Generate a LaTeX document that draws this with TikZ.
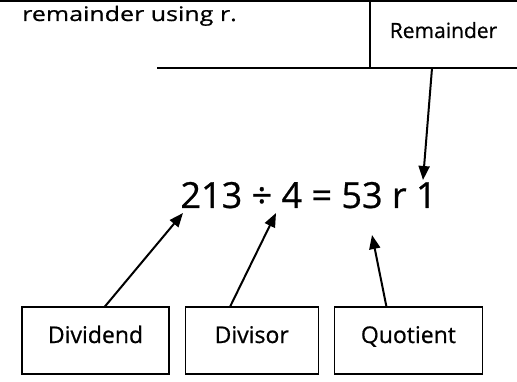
\documentclass[tikz,border=0pt]{standalone}
\usepackage{fontspec}
\setmainfont{Open Sans}[FakeBold=0.7]
\newfontfamily\widefont[FakeStretch=1.25,FakeBold=0.7]{Open Sans}
\usetikzlibrary{arrows.meta,positioning,calc}

\begin{document}
\begin{tikzpicture}[x=1pt, y=-1pt,
    node distance=15pt,
    every node/.style={align=center, inner sep=0pt},
    labelbox/.style={rectangle, draw, line width=1.2pt, minimum height=67pt, text height=17pt, text depth=12pt, font=\fontsize{23}{26}\selectfont},
    pointer/.style={-{Triangle[length=14pt,width=11pt]}, line width=2pt}
]
\useasboundingbox (0,0) rectangle (517,382);

% rules of the table above
\draw[line width=2pt] (0,1) -- (517,1);
\draw[line width=2pt] (370,1) -- (370,68);
\draw[line width=2pt] (157,68) -- (517,68);

\node[anchor=base west, font=\widefont\fontsize{20}{24}\selectfont] (note) at (22,21) {remainder using r.};
\node[minimum width=147pt, minimum height=67pt, text height=16pt, text depth=9pt, font=\fontsize{21}{24}\selectfont] (remainder) at (443.5,34.5) {Remainder};

% the sum
\node[anchor=base, font=\fontsize{36}{40}\selectfont] (sum) at (308.5,208) {213 ÷ 4 = 53 r 1};
\coordinate (dividendtip) at (183,213);
\coordinate (divisortip) at (276,213);
\coordinate (quotienttip) at (372,235);
\coordinate (remaindertip) at (423,180);

% labels below
\node[labelbox, minimum width=147pt] (dividend) at (95.5,340.5) {Dividend};
\node[labelbox, minimum width=133pt, right=of dividend] (divisor) {Divisor};
\node[labelbox, minimum width=148pt, right=of divisor] (quotient) {Quotient};

\draw[pointer] ([xshift=9.5pt]dividend.north) -- (dividendtip);
\draw[pointer] ([xshift=-21.5pt]divisor.north) -- (divisortip);
\draw[pointer] ([xshift=-22pt]quotient.north) -- (quotienttip);
\draw[pointer] ([xshift=-11.5pt]remainder.south) -- (remaindertip);

\end{tikzpicture}
\end{document}
